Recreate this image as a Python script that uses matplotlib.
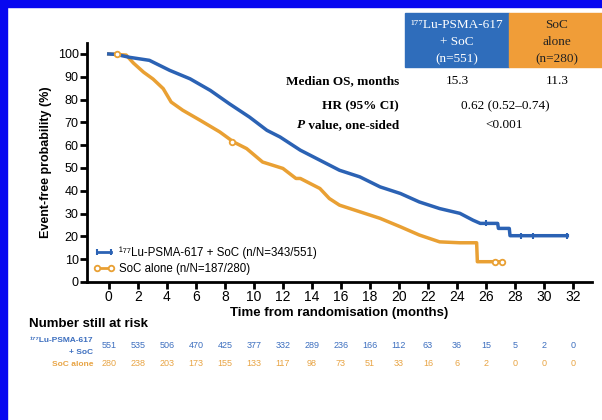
import matplotlib
matplotlib.use("Agg")
import matplotlib.pyplot as plt
from matplotlib.patches import Rectangle
from matplotlib.lines import Line2D

# ---------------- data ----------------
lu_t = [0, 0.5, 1.45, 2.8, 4.2, 5.6, 7.0, 8.3, 9.7, 10.9, 11.8, 13.2, 14.55, 15.9,
        17.3, 18.7, 20.1, 21.4, 22.8, 24.2, 25.1, 25.6, 26.8, 26.85, 27.6, 27.65, 31.6]
lu_s = [100, 99.8, 98.5, 97.2, 92.8, 89.1, 84.0, 78.2, 72.3, 66.5, 63.6, 57.8, 53.4, 49.0,
        46.1, 41.7, 38.8, 35.1, 32.2, 30.1, 27.1, 25.7, 25.7, 23.5, 23.5, 20.3, 20.3]
soc_t = [0, 1.2, 1.7, 2.4, 3.05, 3.75, 4.3, 5.1, 6.3, 7.65, 8.6, 9.5, 10.6, 12.0, 12.9,
         13.2, 14.55, 15.2, 15.9, 17.3, 18.7, 20.1, 21.4, 22.8, 24.2, 25.35, 25.4, 27.1]
soc_s = [100, 99.5, 96.0, 92.0, 89.0, 84.8, 78.9, 75.3, 70.9, 65.8, 61.4, 58.5, 52.6, 49.8, 45.4,
         45.4, 41.0, 36.6, 33.7, 30.8, 27.9, 24.2, 20.6, 17.6, 17.2, 17.2, 8.9, 8.9]

lu_cens_t = [26.0, 28.4, 29.2, 31.6]
lu_cens_s = [25.7, 20.3, 20.3, 20.3]
soc_cens_t = [0.6, 8.5, 26.6, 27.1]
soc_cens_s = [99.8, 61.4, 8.9, 8.9]

x_ticks = list(range(0, 33, 2))
y_ticks = list(range(0, 101, 10))
risk_lu = [551, 535, 506, 470, 425, 377, 332, 289, 236, 166, 112, 63, 36, 15, 5, 2, 0]
risk_soc = [280, 238, 203, 173, 155, 133, 117, 98, 73, 51, 33, 16, 6, 2, 0, 0, 0]

lu_label = "\u00b9\u2077\u2077Lu-PSMA-617 + SoC (n/N=343/551)"
soc_label = "SoC alone (n/N=187/280)"
median_os = ["15.3", "11.3"]
hr_text = "0.62 (0.52\u20130.74)"
p_text = "<0.001"

# ---------------- style ----------------
SANS = ["Liberation Sans", "DejaVu Sans"]
SERIF = ["Liberation Serif", "DejaVu Serif"]
plt.rcParams["font.family"] = SANS
BLUE = "#2B62B4"
ORANGE = "#E9A033"
BLUE_T = "#3D6FBF"
ORANGE_T = "#E8A444"

W, H = 602, 420
fig = plt.figure(figsize=(W / 100, H / 100), dpi=100)

def fx(x):
    return x / W

def fy(y):
    return 1 - y / H

# frame bars
fig.patches.append(Rectangle((0, fy(7)), 1, 7 / H, transform=fig.transFigure,
                             color="#0707F0", zorder=0))
fig.patches.append(Rectangle((0, 0), 7 / W, 1, transform=fig.transFigure,
                             color="#0707F0", zorder=0))

ax = fig.add_axes([fx(87), fy(282), (592 - 87) / W, (282 - 43) / H])
ax.set_xlim(-1.5, 33.3)
ax.set_ylim(0, 104.8)

ax.plot(lu_t, lu_s, color=BLUE, lw=2.5, solid_joinstyle="round", zorder=3)
ax.plot(soc_t, soc_s, color=ORANGE, lw=2.5, solid_joinstyle="round", zorder=2)
ax.plot(lu_cens_t, lu_cens_s, ls="none", marker="|", ms=5, mew=1.5, color=BLUE, zorder=4)
ax.plot(soc_cens_t, soc_cens_s, ls="none", marker="o", ms=4, mew=1.3, mfc="white",
        color=ORANGE, zorder=4)

for s in ["top", "right"]:
    ax.spines[s].set_visible(False)
for s in ["left", "bottom"]:
    ax.spines[s].set_linewidth(2.0)
ax.set_xticks(x_ticks)
ax.set_yticks(y_ticks)
ax.tick_params(axis="both", direction="out", length=5, width=2.0)
ax.tick_params(axis="x", labelsize=10, pad=1)
ax.tick_params(axis="y", labelsize=9, pad=1)
ax.set_xlabel("Time from randomisation (months)", fontsize=9.5, fontweight="bold", labelpad=2)
ax.set_ylabel("Event-free probability (%)", fontsize=9, fontweight="bold", labelpad=4)

h1 = Line2D([], [], color=BLUE, lw=2, marker="|", ms=5, mew=1.5)
h2 = Line2D([], [], color=ORANGE, lw=2, marker="o", ms=4, mew=1.3, mfc="white")
leg = ax.legend([h1, h2], [lu_label, soc_label], loc="lower left",
                bbox_to_anchor=(0.0, 0.0), frameon=False, fontsize=8.3,
                handlelength=1.8, handletextpad=0.4, labelspacing=0.35,
                borderaxespad=0.2, numpoints=2)

# ---------------- header table ----------------
fig.patches.append(Rectangle((fx(405), fy(67)), (509 - 405) / W, (67 - 13) / H,
                             transform=fig.transFigure, color="#2F6DBB", zorder=1))
fig.patches.append(Rectangle((fx(509), fy(67)), (602 - 509) / W, (67 - 13) / H,
                             transform=fig.transFigure, color="#F09D38", zorder=1))
for i, line in enumerate(["\u00b9\u2077\u2077Lu-PSMA-617", "+ SoC", "(n=551)"]):
    fig.text(fx(457), fy(25 + 17 * i), line, ha="center", va="center", color="white",
             fontsize=9.5, family=SERIF, zorder=2)
for i, line in enumerate(["SoC", "alone", "(n=280)"]):
    fig.text(fx(557), fy(25 + 17 * i), line, ha="center", va="center", color="#222222",
             fontsize=9.5, family=SERIF, zorder=2)

fig.text(fx(399), fy(81), "Median OS, months", ha="right", va="center", fontsize=9.5,
         fontweight="bold", family=SERIF)
fig.text(fx(457), fy(81), median_os[0], ha="center", va="center", fontsize=9.5, family=SERIF)
fig.text(fx(557), fy(81), median_os[1], ha="center", va="center", fontsize=9.5, family=SERIF)
fig.text(fx(399), fy(106), "HR (95% CI)", ha="right", va="center", fontsize=9.5,
         fontweight="bold", family=SERIF)
fig.text(fx(505), fy(106), hr_text, ha="center", va="center", fontsize=9.5, family=SERIF)
pv = fig.text(fx(399), fy(128), "\u00a0value, one-sided", ha="right", va="baseline",
              fontsize=9.5, fontweight="bold", family=SERIF)
fig.text(fx(504), fy(128), p_text, ha="center", va="baseline", fontsize=9.5, family=SERIF)
renderer = fig.canvas.get_renderer()
bb = pv.get_window_extent(renderer=renderer)
fig.text(bb.x0 / W, fy(128), "P", ha="right", va="baseline", fontsize=9.5,
         fontweight="bold", fontstyle="italic", family=SERIF)

# ---------------- number at risk ----------------
fig.text(fx(29), fy(324), "Number still at risk", ha="left", va="center", fontsize=9.5,
         fontweight="bold")
fig.text(fx(93), fy(341), "\u00b9\u2077\u2077Lu-PSMA-617", ha="right", va="center",
         fontsize=6, fontweight="bold", color=BLUE_T)
fig.text(fx(93), fy(353), "+ SoC", ha="right", va="center", fontsize=6,
         fontweight="bold", color=BLUE_T)
fig.text(fx(93), fy(364), "SoC alone", ha="right", va="center", fontsize=6,
         fontweight="bold", color=ORANGE_T)
for xt, a, b in zip(x_ticks, risk_lu, risk_soc):
    xd = fig.transFigure.inverted().transform(ax.transData.transform((xt, 0)))[0]
    fig.text(xd, fy(346), str(a), ha="center", va="center", fontsize=6.5, color=BLUE_T)
    fig.text(xd, fy(364), str(b), ha="center", va="center", fontsize=6.5, color=ORANGE_T)

fig.savefig("out.png", dpi=100)
